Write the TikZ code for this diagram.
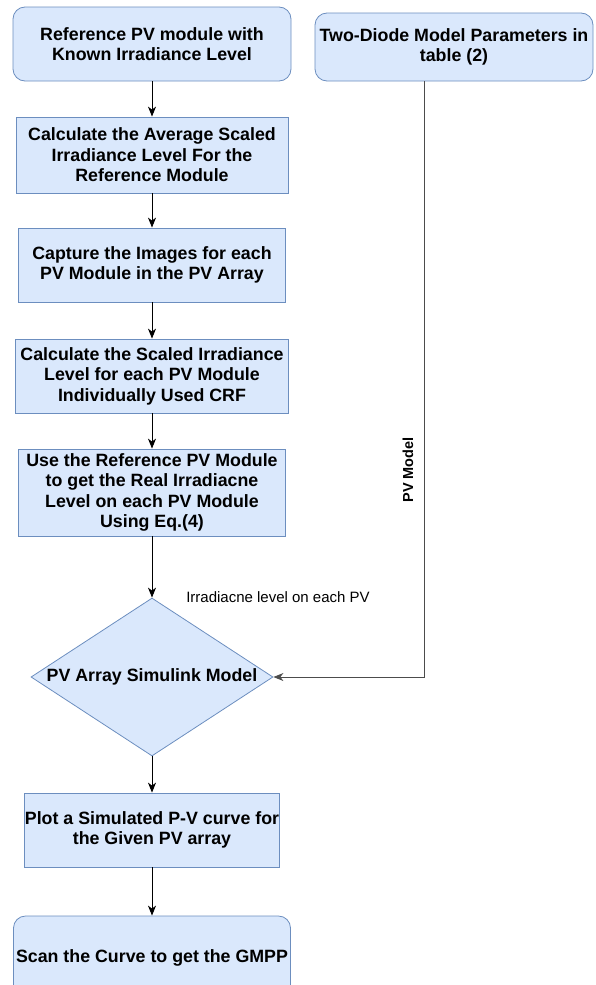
\documentclass[tikz,border=0pt]{standalone}
\usepackage{fontspec}
\setmainfont{Liberation Sans}
\usetikzlibrary{shapes.geometric,arrows.meta}
\definecolor{boxfill}{HTML}{DAE8FC}
\definecolor{boxline}{HTML}{6C8EBF}
\begin{document}
\begin{tikzpicture}[x=1pt,y=-1pt,
  every node/.style={font=\bfseries\fontsize{17.8}{20.5}\selectfont,align=center,inner sep=0pt},
  blk/.style={draw=boxline,fill=boxfill,line width=0.8pt},
  rblk/.style={blk,rounded corners=12pt},
  dec/.style={blk,diamond,aspect=1.53},
  flow/.style={-{Stealth[length=10pt,width=8pt,inset=3pt]},line width=0.9pt}]
\useasboundingbox (0,0) rectangle (595,985);
\clip (0,0) rectangle (595,985);
\node[rblk,minimum width=278pt,minimum height=74pt] (refmod) at (152,44) {Reference PV module with\\Known Irradiance Level};
\node[blk,minimum width=272pt,minimum height=76pt] (avg) at (152,155) {Calculate the Average Scaled\\Irradiance Level For the\\Reference Module};
\node[blk,minimum width=267pt,minimum height=74pt] (capt) at (152,265) {Capture the Images for each\\PV Module in the PV Array};
\node[blk,minimum width=273pt,minimum height=74pt] (scal) at (152,376) {Calculate the Scaled Irradiance\\Level for each PV Module\\Individually Used CRF};
\node[blk,minimum width=267pt,minimum height=87pt] (real) at (152,492.5) {Use the Reference PV Module\\to get the Real Irradiacne\\Level on each PV Module\\Using Eq.(4)};
\node[dec,minimum width=242pt,minimum height=158pt] (simu) at (152,677) {PV Array Simulink Model};
\node[blk,minimum width=255pt,minimum height=74pt] (plot) at (152,830) {Plot a Simulated P-V curve for\\the Given PV array};
\node[rblk,minimum width=277pt,minimum height=84pt] (gmpp) at (152,958) {Scan the Curve to get the GMPP};
\node[rblk,minimum width=278pt,minimum height=68pt] (diode) at (454,47) {Two-Diode Model Parameters in\\table (2)};
\node[rotate=90,font=\bfseries\fontsize{14.5}{17}\selectfont] (pvmodel) at (408,470) {PV Model};
\node[font=\fontsize{15}{18}\selectfont] (irrlabel) at (278,597) {Irradiacne level on each PV};
\foreach \a/\b in {refmod/avg,avg/capt,capt/scal,scal/real,real/simu,simu/plot,plot/gmpp}
  \draw[flow] (\a) -- (\b);
\draw[flow,draw=black!70] ([xshift=-30pt]diode.south) |- (simu.east);
\end{tikzpicture}
\end{document}
